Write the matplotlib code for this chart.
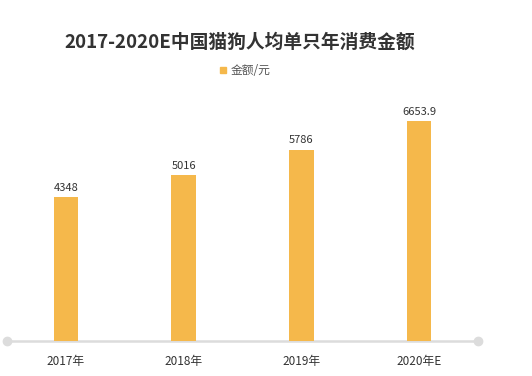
import matplotlib.pyplot as plt
import numpy as np

plt.rcParams['font.family'] = ['Noto Sans CJK SC', 'DejaVu Sans']

# 数据
years = ["2017年", "2018年", "2019年", "2020年E"]
amounts = [4348, 5016, 5786, 6653.9]
labels = ["4348", "5016", "5786", "6653.9"]

bar_color = "#F5B84B"
line_color = "#DCDCDC"

fig = plt.figure(figsize=(5.32, 3.76), dpi=100)
ax = fig.add_axes([7 / 532, 35 / 376, 471 / 532, 264.5 / 376])

x = np.arange(len(years))
ax.bar(x, amounts, width=0.21, color=bar_color, zorder=2)

for xi, v, t in zip(x, amounts, labels):
    ax.text(xi, v + 130, t, ha="center", va="bottom", fontsize=8, color="#333333")

ax.set_xlim(-0.5, len(years) - 0.5)
ax.set_ylim(0, 8000)

# 底部基线和两端圆点
ax.plot([-0.5, len(years) - 0.5], [0, 0], color=line_color, lw=1.8, zorder=1,
        clip_on=False)
ax.plot([-0.5, len(years) - 0.5], [0, 0], "o", color=line_color, ms=6,
        clip_on=False, zorder=1)

ax.set_xticks(x)
ax.set_xticklabels(years, fontsize=8.5, color="#333333")
ax.tick_params(axis="x", length=0, pad=10)
ax.set_yticks([])
for s in ax.spines.values():
    s.set_visible(False)

# 标题和图例
fig.text(240 / 532, 1 - 42 / 376, "2017-2020E中国猫狗人均单只年消费金额",
         ha="center", va="center", fontsize=13.5, fontweight="bold", color="#333333")
fig.patches.append(plt.Rectangle((220 / 532, 1 - 73 / 376), 6 / 532, 6 / 376,
                                 transform=fig.transFigure, color=bar_color))
fig.text(231 / 532, 1 - 70 / 376, "金额/元", ha="left", va="center",
         fontsize=8.5, color="#555555")

fig.savefig("out.png", dpi=100)
